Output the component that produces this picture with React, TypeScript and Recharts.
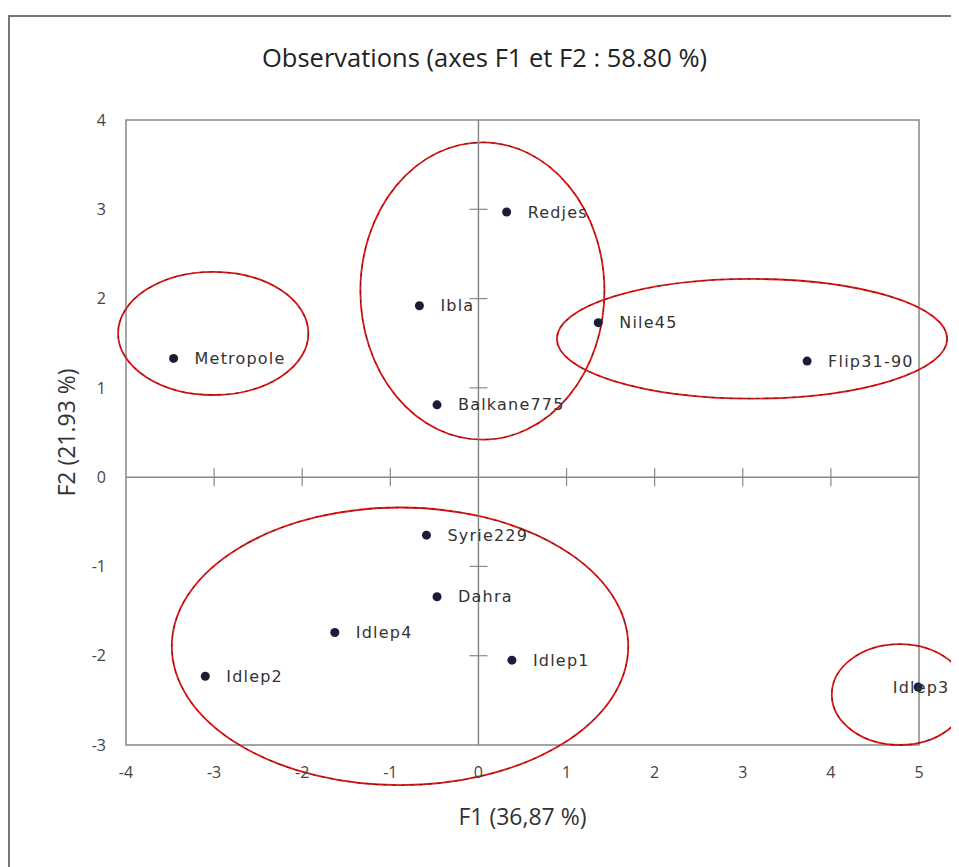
import { LabelList, ReferenceArea, ReferenceLine, Scatter, ScatterChart, XAxis, YAxis } from 'recharts'

// observations on the first factorial plane
const names = ['Metropole', 'Ibla', 'Redjes', 'Balkane775', 'Nile45', 'Flip31-90', 'Syrie229', 'Dahra', 'Idlep4', 'Idlep1', 'Idlep2', 'Idlep3']
const f1 = [-3.46, -0.67, 0.32, -0.47, 1.36, 3.73, -0.59, -0.47, -1.63, 0.38, -3.1, 4.99]
const f2 = [1.33, 1.92, 2.97, 0.81, 1.73, 1.3, -0.65, -1.34, -1.74, -2.05, -2.23, -2.35]

// hand-drawn groups (bounding boxes in axis units)
const groupLeft = [-4.09, -1.34, 0.89, -3.48, 4.01]
const groupRight = [-1.93, 1.43, 5.32, 1.7, 5.55]
const groupTop = [2.3, 3.75, 2.22, -0.34, -1.87]
const groupBottom = [0.92, 0.42, 0.88, -3.45, -3.0]

const xTicks = [-4, -3, -2, -1, 0, 1, 2, 3, 4, 5]
const yTicks = [-3, -2, -1, 0, 1, 2, 3, 4]
const crossX = [-3, -2, -1, 1, 2, 3, 4]
const crossY = [-2, -1, 1, 2, 3]

const points = names.map((name, i) => ({ name, x: f1[i], y: f2[i] }))
const xMarks = crossX.map((x) => ({ x, y: 0 }))
const yMarks = crossY.map((y) => ({ x: 0, y }))

const narrow = "'Liberation Sans Narrow', 'Open Sans', sans-serif"
const grey = '#888'

const Ellipse = (props: any) => {
  const { x, y, width, height } = props
  const cx = x + width / 2
  const cy = y + height / 2
  return (
    <g>
      <ellipse cx={cx} cy={cy} rx={width / 2} ry={height / 2} fill="none" stroke="#e01414" strokeWidth={1.8} />
      <ellipse cx={cx} cy={cy} rx={width / 2} ry={height / 2} fill="none" stroke="#222" strokeWidth={0.8} strokeDasharray="3 6" />
    </g>
  )
}

const Dot = (props: any) => <circle cx={props.cx} cy={props.cy} r={4.5} fill="#1c1c38" />

const VMark = (props: any) => <line x1={props.cx} x2={props.cx} y1={props.cy - 9} y2={props.cy + 9} stroke={grey} strokeWidth={1.2} />
const HMark = (props: any) => <line x1={props.cx - 9} x2={props.cx + 9} y1={props.cy} y2={props.cy} stroke={grey} strokeWidth={1.2} />

const PointLabel = (props: any) => {
  const { x, y, width, height, value } = props
  const cx = x + width / 2
  const cy = y + height / 2
  const centred = value === 'Idlep3'
  return (
    <text
      x={centred ? cx + 3 : cx + 21}
      y={cy}
      dy="0.35em"
      textAnchor={centred ? 'middle' : 'start'}
      fontFamily="'DejaVu Sans', sans-serif"
      fontSize={16}
      letterSpacing={1.2}
      fill="#333"
    >
      {value}
    </text>
  )
}

export default function App() {
  return (
    <div
      style={{
        position: 'relative',
        marginTop: 7,
        width: 951,
        height: 852,
        borderTop: '2px solid #777',
        borderLeft: '2px solid #777',
        boxSizing: 'border-box',
        background: '#fff',
      }}
    >
      <div
        style={{
          position: 'absolute',
          top: 26,
          left: 0,
          width: 949,
          textAlign: 'center',
          fontFamily: narrow,
          fontSize: 25.5,
          lineHeight: '28px',
          color: '#222',
        }}
      >
        Observations (axes F1 et F2 : 58.80 %)
      </div>
      <ScatterChart width={949} height={850} margin={{ top: 103, right: 40, bottom: 42, left: 36 }}>
        <XAxis
          type="number"
          dataKey="x"
          domain={[-4, 5]}
          ticks={xTicks}
          axisLine={false}
          tickLine={false}
          tickSize={0}
          tickMargin={22}
          height={80}
          tick={{ fill: '#444', fontSize: 16, fontFamily: narrow }}
          label={{ value: 'F1 (36,87 %)', position: 'insideBottom', offset: 0, fill: '#333', fontSize: 23, fontFamily: narrow }}
        />
        <YAxis
          type="number"
          dataKey="y"
          domain={[-3, 4]}
          ticks={yTicks}
          axisLine={false}
          tickLine={false}
          tickSize={0}
          tickMargin={20}
          width={80}
          tick={{ fill: '#444', fontSize: 16, fontFamily: narrow }}
          label={{
            value: 'F2 (21.93 %)',
            angle: -90,
            position: 'insideLeft',
            offset: 21,
            fill: '#333',
            fontSize: 23,
            fontFamily: narrow,
            style: { textAnchor: 'middle' },
          }}
        />
        <ReferenceArea x1={-4} x2={5} y1={-3} y2={4} fill="none" stroke={grey} strokeWidth={1.5} />
        <ReferenceLine x={0} stroke={grey} strokeWidth={1.5} />
        <ReferenceLine y={0} stroke={grey} strokeWidth={1.5} />
        <Scatter data={xMarks} shape={VMark} isAnimationActive={false} />
        <Scatter data={yMarks} shape={HMark} isAnimationActive={false} />
        {groupLeft.map((x1, i) => (
          <ReferenceArea
            key={i}
            x1={x1}
            x2={groupRight[i]}
            y1={groupBottom[i]}
            y2={groupTop[i]}
            ifOverflow="visible"
            shape={Ellipse}
          />
        ))}
        <Scatter data={points} shape={Dot} isAnimationActive={false}>
          <LabelList dataKey="name" content={PointLabel} />
        </Scatter>
      </ScatterChart>
    </div>
  )
}
